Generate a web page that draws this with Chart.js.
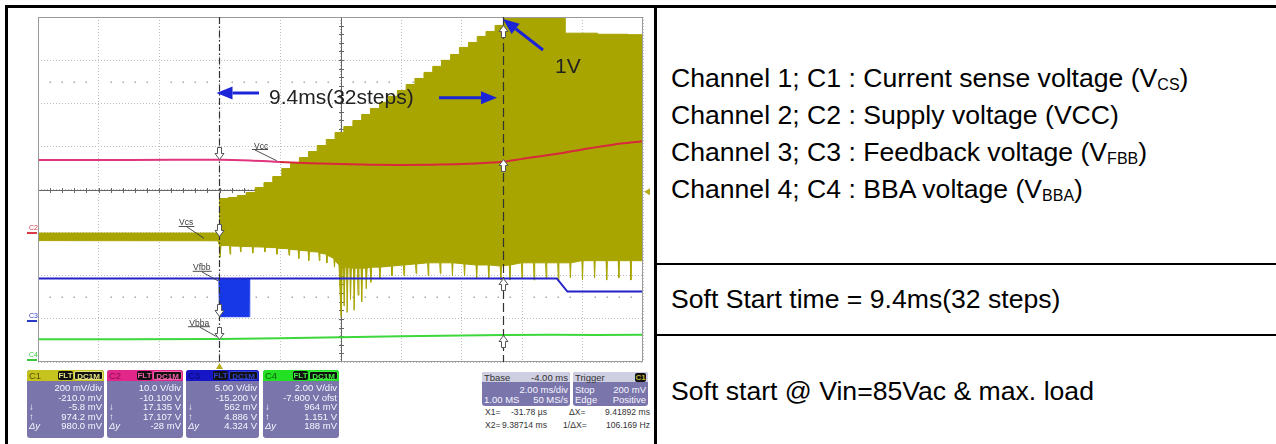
<!DOCTYPE html>
<html><head><meta charset="utf-8">
<script src="https://cdn.jsdelivr.net/npm/chart.js@4.4.1/dist/chart.umd.min.js"></script>
<style>
html,body{margin:0;padding:0;background:#fff;}
body{width:1276px;height:444px;overflow:hidden;position:relative;font-family:"Liberation Sans",Arial,sans-serif;}
.ln{position:absolute;background:#000;}
.t{position:absolute;left:671px;font-size:26.6px;line-height:26px;color:#000;white-space:nowrap;}
.t sub{font-size:16px;vertical-align:-3px;line-height:0;}
#scope{position:absolute;left:20px;top:10px;width:630px;height:362px;}
.box{position:absolute;background:#7a75ab;border-radius:3px;color:#f6f6ff;font-size:9.5px;line-height:9.6px;overflow:hidden;}
.hd{position:absolute;left:0;right:0;top:0;height:11px;}
.hl{position:absolute;left:2px;top:1px;font-size:9.5px;line-height:10px;}
.r{position:absolute;right:2px;white-space:nowrap;}
.l{position:absolute;left:2px;white-space:nowrap;}
.bd{position:absolute;top:1px;height:9px;background:#111;border-radius:2px;font-weight:bold;font-size:8px;line-height:9px;text-align:center;box-sizing:border-box;}
.meas{position:absolute;font-size:8.6px;line-height:10px;color:#333;white-space:nowrap;}
</style></head>
<body>
<div class="ln" style="left:5px;top:5px;width:1290px;height:3px"></div>
<div class="ln" style="left:5px;top:5px;width:3px;height:460px"></div>
<div class="ln" style="left:654px;top:5px;width:2.5px;height:460px"></div>
<div class="ln" style="left:654px;top:263px;width:640px;height:2px"></div>
<div class="ln" style="left:654px;top:334px;width:640px;height:2px"></div>

<div class="t" style="top:65px">Channel 1; C1 : Current sense voltage (V<sub>CS</sub>)</div>
<div class="t" style="top:102px">Channel 2; C2 : Supply voltage (VCC)</div>
<div class="t" style="top:139px">Channel 3; C3 : Feedback voltage (V<sub>FBB</sub>)</div>
<div class="t" style="top:175.5px">Channel 4; C4 : BBA voltage (V<sub>BBA</sub>)</div>
<div class="t" style="top:285.5px">Soft Start time = 9.4ms(32 steps)</div>
<div class="t" style="top:378px">Soft start @ Vin=85Vac &amp; max. load</div>

<div id="scope"><canvas id="c" width="630" height="362"></canvas></div>
<div id="panel"></div>

<div class="box" style="left:482px;top:372px;width:88px;height:34px">
  <div class="hd" style="background:#cfcfe2;height:10px"></div>
  <span class="l" style="top:0.5px;color:#333">Tbase</span><span class="r" style="top:0.5px;color:#333">-4.00 ms</span>
  <span class="r" style="top:12.5px">2.00 ms/div</span>
  <span class="l" style="top:22.5px">1.00 MS</span><span class="r" style="top:22.5px">50 MS/s</span>
</div>
<div class="box" style="left:573px;top:372px;width:75px;height:34px">
  <div class="hd" style="background:#cfcfe2;height:10px"></div>
  <span class="l" style="top:0.5px;color:#333">Trigger</span>
  <span class="bd" style="left:62px;width:11px;top:0.5px;color:#c0b830">C1</span>
  <span class="l" style="top:12.5px">Stop</span><span class="r" style="top:12.5px">200 mV</span>
  <span class="l" style="top:22.5px">Edge</span><span class="r" style="top:22.5px">Positive</span>
</div>
<div class="meas" style="left:485px;top:407px">X1=</div>
<div class="meas" style="left:499px;top:407px;width:48px;text-align:right">-31.78 µs</div>
<div class="meas" style="left:569px;top:407px">ΔX=</div>
<div class="meas" style="left:588px;top:407px;width:62px;text-align:right">9.41892 ms</div>
<div class="meas" style="left:485px;top:420px">X2=</div>
<div class="meas" style="left:499px;top:420px;width:48px;text-align:right">9.38714 ms</div>
<div class="meas" style="left:563px;top:420px">1/ΔX=</div>
<div class="meas" style="left:588px;top:420px;width:62px;text-align:right">106.169 Hz</div>

<script>
// ---- scope settings (time in ms, volts) ----
const timeMin = -6, timeMax = 14;               // Tbase -4.00 ms, 2.00 ms/div, 10 div
const channelIds = ['yC1', 'yC2', 'yC3', 'yC4'];
const voltsPerDiv = [0.2, 10, 5, 2];
const channelOffset = [-0.210, -10.1, -15.2, -7.9];
const cursorTimes = [-0.03178, 9.38714];
const cursor1Values = [-0.0058, 17.135, 0.562, 0.964];
const cursor2Values = [0.9742, 17.107, 4.886, 1.151];

// C1 Vcs: upper envelope (32 soft-start steps)
const vcsTopT = [-6, -0.03, 0, 0.29, 0.59, 0.88, 1.18, 1.47, 1.76, 2.06, 2.35, 2.64, 2.94, 3.23, 3.53, 3.82, 4.11, 4.41,
  4.70, 4.99, 5.29, 5.58, 5.88, 6.17, 6.46, 6.76, 7.05, 7.34, 7.64, 7.93, 8.23, 8.52, 8.81, 9.11, 9.40, 11.43, 12.5, 13.5, 14];
const vcsTopV = [0.008, 0.008, 0.168, 0.173, 0.182, 0.196, 0.219, 0.242, 0.270, 0.307, 0.331, 0.358, 0.386, 0.414, 0.442,
  0.474, 0.502, 0.530, 0.558, 0.586, 0.614, 0.642, 0.669, 0.697, 0.725, 0.753, 0.781, 0.809, 0.836, 0.869, 0.892, 0.920,
  0.943, 0.971, 1.06, 0.935, 0.930, 0.928, 0.925];
// C1 Vcs: lower envelope with its downward spikes
const vcsBotT = [-6, -0.05, 0, 0.02, 0.05, 0.33, 0.35, 0.37, 0.68, 0.70, 0.72, 1.08, 1.10, 1.12, 1.48, 1.50, 1.52,
  1.88, 1.90, 1.92, 2.28, 2.30, 2.32, 2.60, 2.62, 2.64, 2.93, 2.95, 2.97, 3.28, 3.30, 3.32, 3.53, 3.55, 3.57,
  3.78, 3.80, 3.82, 3.95, 4.02, 4.06, 4.10, 4.12, 4.15, 4.20, 4.22, 4.25, 4.31, 4.33, 4.36, 4.43, 4.45, 4.48,
  4.56, 4.58, 4.61, 4.68, 4.70, 4.73, 4.83, 4.85, 4.88, 4.98, 5.00, 5.03, 5.28, 5.30, 5.32, 5.68, 5.70, 5.72,
  6.08, 6.10, 6.12, 6.48, 6.50, 6.52, 6.88, 6.90, 6.92, 7.28, 7.30, 7.32, 7.68, 7.70, 7.72, 8.08, 8.10, 8.12,
  8.48, 8.50, 8.52, 8.88, 8.90, 8.92, 9.28, 9.30, 9.32, 9.58, 9.60, 9.62, 9.98, 10.00, 10.02, 10.38, 10.40, 10.42,
  10.78, 10.80, 10.82, 11.18, 11.20, 11.22, 11.58, 11.60, 11.62, 11.98, 12.00, 12.02, 12.38, 12.40, 12.42,
  12.78, 12.80, 12.82, 13.18, 13.20, 13.22, 13.58, 13.60, 13.62, 14.00];
const vcsBotV = [-0.027, -0.028, -0.05, -0.105, -0.05, -0.05, -0.09, -0.052, -0.053, -0.08, -0.054, -0.055, -0.085, -0.056,
  -0.057, -0.08, -0.058, -0.06, -0.09, -0.062, -0.065, -0.095, -0.068, -0.07, -0.11, -0.072, -0.075, -0.12, -0.078,
  -0.08, -0.12, -0.085, -0.09, -0.13, -0.095, -0.11, -0.15, -0.12, -0.14, -0.38, -0.15, -0.15, -0.33, -0.15,
  -0.15, -0.36, -0.15, -0.155, -0.30, -0.155, -0.155, -0.35, -0.155, -0.155, -0.28, -0.155, -0.155, -0.31, -0.155,
  -0.155, -0.25, -0.155, -0.15, -0.22, -0.15, -0.15, -0.20, -0.15, -0.145, -0.19, -0.145, -0.14, -0.19, -0.14,
  -0.135, -0.18, -0.135, -0.13, -0.19, -0.13, -0.13, -0.18, -0.13, -0.13, -0.19, -0.13, -0.135, -0.19, -0.135,
  -0.14, -0.20, -0.14, -0.14, -0.20, -0.14, -0.145, -0.21, -0.145, -0.14, -0.21, -0.14, -0.13, -0.20, -0.13,
  -0.13, -0.21, -0.13, -0.13, -0.20, -0.13, -0.13, -0.21, -0.13, -0.13, -0.20, -0.13, -0.12, -0.21, -0.12,
  -0.12, -0.20, -0.12, -0.12, -0.21, -0.12, -0.12, -0.20, -0.12, -0.12, -0.21, -0.12, -0.12];
// C2 Vcc
const vccT = [-6, -3, 0, 1, 2, 3, 4, 5, 6, 7, 8, 9, 9.4, 10, 11, 12, 13, 14];
const vccV = [16.95, 16.95, 17.0, 16.85, 16.5, 16.2, 16.0, 15.85, 15.8, 15.85, 16.0, 16.35, 16.55, 17.2, 18.2, 19.4, 20.5, 21.3];
// C3 Vfbb (upper / lower of the burst block)
const vfbbT = [-6, -0.02, 0, 0.98, 1.0, 11.15, 11.5, 14];
const vfbbHiV = [4.886, 4.886, 4.886, 4.886, 4.886, 4.886, 3.37, 3.37];
const vfbbLoV = [4.886, 4.886, 0.45, 0.45, 4.886, 4.886, 3.37, 3.37];
// C4 Vbba
const vbbaT = [-6, -3, 0, 2, 4, 6, 8, 9.4, 11, 12.5, 14];
const vbbaV = [0.95, 0.955, 0.964, 1.0, 1.05, 1.09, 1.13, 1.151, 1.16, 1.155, 1.16];

// ---- readout panel ----
const readouts = [
  {ch:'C1', head:'#c6c21e', lab:'#5a5800', badge:'#e4e080', rows:['200 mV/div','-210.0 mV','-5.8 mV','974.2 mV','980.0 mV']},
  {ch:'C2', head:'#e2268a', lab:'#8a1050', badge:'#f060a8', rows:['10.0 V/div','-10.100 V','17.135 V','17.107 V','-28 mV']},
  {ch:'C3', head:'#1616c6', lab:'#0a0a70', badge:'#3040d0', rows:['5.00 V/div','-15.200 V','562 mV','4.886 V','4.324 V']},
  {ch:'C4', head:'#24e024', lab:'#0a5a0a', badge:'#40f040', rows:['2.00 V/div','-7.900 V ofst','964 mV','1.151 V','188 mV']}
];
const boxLeft = [27, 107, 186, 263], boxWidth = [77, 76, 73, 76];
const symbols = ['', '', '↓', '↑', 'Δy'];
const panel = document.getElementById('panel');
readouts.forEach((r, i) => {
  const b = document.createElement('div');
  b.className = 'box';
  b.style.cssText = `left:${boxLeft[i]}px;top:370px;width:${boxWidth[i]}px;height:68px`;
  const w = boxWidth[i];
  let h = `<div class="hd" style="background:${r.head}"></div><span class="hl" style="color:${r.lab}">${r.ch}</span>`;
  h += `<span class="bd" style="left:${w-46}px;width:15px;color:${r.badge}">FLT</span>`;
  h += `<span class="bd" style="left:${w-30}px;width:29px;color:${r.badge};border:1px solid ${r.badge}">DC1M</span>`;
  r.rows.forEach((txt, k) => {
    const top = 13 + k * 9.6;
    h += `<span class="r" style="top:${top}px">${txt}</span>`;
    if (symbols[k]) h += `<span class="l" style="top:${top}px;${k===4?'font-style:italic;':''}">${symbols[k]}</span>`;
  });
  b.innerHTML = h;
  panel.appendChild(b);
});

// ---- chart ----
const pts = (T, V) => T.map((t, i) => ({x: t, y: V[i]}));
const olive = '#a8a400';

function arrowMark(ctx, x, y, dir) {
  ctx.save(); ctx.translate(Math.round(x) + 0.5, Math.round(y) + 0.5); ctx.scale(1, dir);
  ctx.beginPath(); ctx.moveTo(0, 0); ctx.lineTo(-4.5, -6); ctx.lineTo(-2, -6); ctx.lineTo(-2, -12);
  ctx.lineTo(2, -12); ctx.lineTo(2, -6); ctx.lineTo(4.5, -6); ctx.closePath();
  ctx.fillStyle = '#fff'; ctx.fill(); ctx.lineWidth = 1; ctx.strokeStyle = '#555'; ctx.stroke();
  ctx.restore();
}
function blueArrow(ctx, x0, y0, x1, y1) {
  const ang = Math.atan2(y1 - y0, x1 - x0), hl = 16, hw = 6.5;
  const bx = x1 - hl * Math.cos(ang), by = y1 - hl * Math.sin(ang);
  ctx.strokeStyle = ctx.fillStyle = '#1c24d8'; ctx.lineWidth = 3;
  ctx.beginPath(); ctx.moveTo(x0, y0); ctx.lineTo(bx, by); ctx.stroke();
  ctx.beginPath(); ctx.moveTo(x1, y1);
  ctx.lineTo(bx + hw * Math.sin(ang), by - hw * Math.cos(ang));
  ctx.lineTo(bx - hw * Math.sin(ang), by + hw * Math.cos(ang));
  ctx.closePath(); ctx.fill();
}
function traceLabel(ctx, txt, tx, ty, ux0, ux1, uy, lx0, ly0, lx1, ly1) {
  ctx.font = '8.5px "Liberation Sans", Arial, sans-serif';
  ctx.fillStyle = '#3a3a3a'; ctx.fillText(txt, tx, ty);
  ctx.strokeStyle = '#3a3a3a'; ctx.lineWidth = 0.9;
  ctx.beginPath(); ctx.moveTo(ux0, uy); ctx.lineTo(ux1, uy); ctx.moveTo(lx0, ly0); ctx.lineTo(lx1, ly1); ctx.stroke();
}

const scopePlugin = {
  id: 'scope',
  beforeDatasetsDraw(chart) {
    const {ctx, chartArea: a, scales: s} = chart;
    ctx.save();
    ctx.fillStyle = '#a8a8a8';
    [2.5, -2.5].forEach(d => {
      const y = Math.round(s.yDiv.getPixelForValue(d));
      for (let k = 1; k < 50; k++) {
        if (k % 5 === 0) continue;
        const x = Math.round(s.x.getPixelForValue(timeMin + k * 0.4));
        ctx.fillRect(x - 0.5, y - 0.5, 1.5, 1.5);
      }
    });
    const cx = Math.round(s.x.getPixelForValue((timeMin + timeMax) / 2)) + 0.5;
    const cy = Math.round(s.yDiv.getPixelForValue(0)) + 0.5;
    ctx.strokeStyle = '#666'; ctx.lineWidth = 1; ctx.beginPath();
    ctx.moveTo(a.left, cy); ctx.lineTo(a.right, cy); ctx.moveTo(cx, a.top); ctx.lineTo(cx, a.bottom);
    for (let k = 1; k < 50; k++) { const x = Math.round(s.x.getPixelForValue(timeMin + k * 0.4)) + 0.5; ctx.moveTo(x, cy - 2.5); ctx.lineTo(x, cy + 2.5); }
    for (let k = 1; k < 40; k++) { const y = Math.round(s.yDiv.getPixelForValue(-4 + k * 0.2)) + 0.5; ctx.moveTo(cx - 2.5, y); ctx.lineTo(cx + 2.5, y); }
    ctx.stroke();
    ctx.restore();
  },
  afterDatasetsDraw(chart) {
    const {ctx, chartArea: a, scales: s} = chart;
    ctx.save();
    ctx.strokeStyle = '#9a9a9a'; ctx.lineWidth = 1;
    ctx.strokeRect(a.left + 0.5, a.top + 0.5, a.width - 1, a.height - 1);
    // cursors
    const dashes = [[7, 2.5, 1.5, 2.5], [9, 4]];
    cursorTimes.forEach((t, i) => {
      const x = Math.round(s.x.getPixelForValue(t)) + 0.5;
      ctx.strokeStyle = '#333'; ctx.lineWidth = 1.2; ctx.setLineDash(dashes[i]);
      ctx.beginPath(); ctx.moveTo(x, a.top); ctx.lineTo(x, a.bottom); ctx.stroke();
    });
    ctx.setLineDash([]);
    cursor1Values.forEach((v, i) => arrowMark(ctx, s.x.getPixelForValue(cursorTimes[0]), s[channelIds[i]].getPixelForValue(v), 1));
    cursor2Values.forEach((v, i) => arrowMark(ctx, s.x.getPixelForValue(cursorTimes[1]), s[channelIds[i]].getPixelForValue(v), -1));
    // trace labels
    traceLabel(ctx, 'Vcc', 234, 138.5, 232, 248, 139.5, 235, 140, 256.7, 150.7);
    traceLabel(ctx, 'Vcs', 159, 215, 158.7, 174.3, 216.5, 166.7, 216.7, 184, 228.3);
    traceLabel(ctx, 'Vfbb', 173, 260, 172.7, 191.7, 261.3, 181.7, 261.7, 198.3, 271);
    traceLabel(ctx, 'Vbba', 169.3, 316, 168, 190, 316.7, 180, 317.3, 196.7, 326.7);
    // annotations
    ctx.font = '21px "Liberation Sans", Arial, sans-serif';
    ctx.fillStyle = '#222';
    ctx.fillText('9.4ms(32steps)', 249, 93.5);
    ctx.fillText('1V', 535, 62.5);
    blueArrow(ctx, 239, 83, 196.5, 83);
    blueArrow(ctx, 419, 87.7, 477, 87.7);
    blueArrow(ctx, 523, 40, 483, 9);
    // channel ground markers
    const gnd = [['C2', 'yC2', '#d83a48'], ['C3', 'yC3', '#2a3ac8'], ['C4', 'yC4', '#3cc83c']];
    ctx.font = '7px "Liberation Sans", Arial, sans-serif';
    gnd.forEach(([lab, id, col]) => {
      const y = Math.round(s[id].getPixelForValue(0));
      ctx.fillStyle = col; ctx.fillText(lab, 9, y - 3);
      ctx.fillRect(7, y - 1, 10, 2);
    });
    // trigger markers
    ctx.fillStyle = '#b4ac1c';
    const tx = s.x.getPixelForValue(0);
    ctx.beginPath(); ctx.moveTo(tx, a.bottom + 1); ctx.lineTo(tx - 3.5, a.bottom + 7); ctx.lineTo(tx + 3.5, a.bottom + 7); ctx.closePath(); ctx.fill();
    const ty = s.yC1.getPixelForValue(0.2);
    ctx.beginPath(); ctx.moveTo(a.right + 1, ty); ctx.lineTo(a.right + 7, ty - 3.5); ctx.lineTo(a.right + 7, ty + 3.5); ctx.closePath(); ctx.fill();
    ctx.restore();
  }
};

const scales = {
  x: {type: 'linear', min: timeMin, max: timeMax, ticks: {display: false, stepSize: 2},
      grid: {color: '#bdbdbd', drawTicks: false, lineWidth: 1}, border: {display: false, dash: [1, 2]}},
  yDiv: {type: 'linear', position: 'left', min: -4, max: 4, ticks: {display: false, stepSize: 1},
      grid: {color: '#bdbdbd', drawTicks: false, lineWidth: 1}, border: {display: false, dash: [1, 2]}}
};
channelIds.forEach((id, i) => {
  scales[id] = {type: 'linear', display: false,
    min: -channelOffset[i] - 4 * voltsPerDiv[i], max: -channelOffset[i] + 4 * voltsPerDiv[i]};
});

new Chart(document.getElementById('c'), {
  type: 'line',
  data: {datasets: [
    {label: 'Vcc', data: pts(vccT, vccV), yAxisID: 'yC2', borderWidth: 2, pointRadius: 0, fill: false,
     cubicInterpolationMode: 'monotone', order: 0, clip: 0, borderColor: '#e0357e',
     segment: {borderColor: c => c.p0.parsed.x < 1.6 ? '#e0357e' : '#d8283c'}},
    {label: 'Vfbb', data: pts(vfbbT, vfbbHiV), yAxisID: 'yC3', borderColor: '#2424c8', borderWidth: 2,
     pointRadius: 0, fill: '+1', backgroundColor: '#1638e6', order: 1, clip: 0},
    {label: 'Vfbb min', data: pts(vfbbT, vfbbLoV), yAxisID: 'yC3', borderColor: '#1638e6', borderWidth: 1,
     pointRadius: 0, fill: false, order: 2, clip: 0},
    {label: 'Vbba', data: pts(vbbaT, vbbaV), yAxisID: 'yC4', borderColor: '#3cd83c', borderWidth: 2,
     pointRadius: 0, fill: false, order: 3, clip: 0},
    {label: 'Vcs', data: pts(vcsTopT, vcsTopV), yAxisID: 'yC1', stepped: 'before', borderColor: olive, borderWidth: 1,
     pointRadius: 0, fill: '+1', backgroundColor: olive, order: 4, clip: 0},
    {label: 'Vcs min', data: pts(vcsBotT, vcsBotV), yAxisID: 'yC1', borderColor: olive, borderWidth: 1,
     pointRadius: 0, fill: false, order: 5, clip: 0}
  ]},
  options: {
    responsive: false, animation: false, events: [],
    layout: {padding: {left: 18, right: 7, top: 7, bottom: 10}},
    plugins: {legend: {display: false}, tooltip: {enabled: false}},
    scales
  },
  plugins: [scopePlugin]
});
</script>
</body></html>
